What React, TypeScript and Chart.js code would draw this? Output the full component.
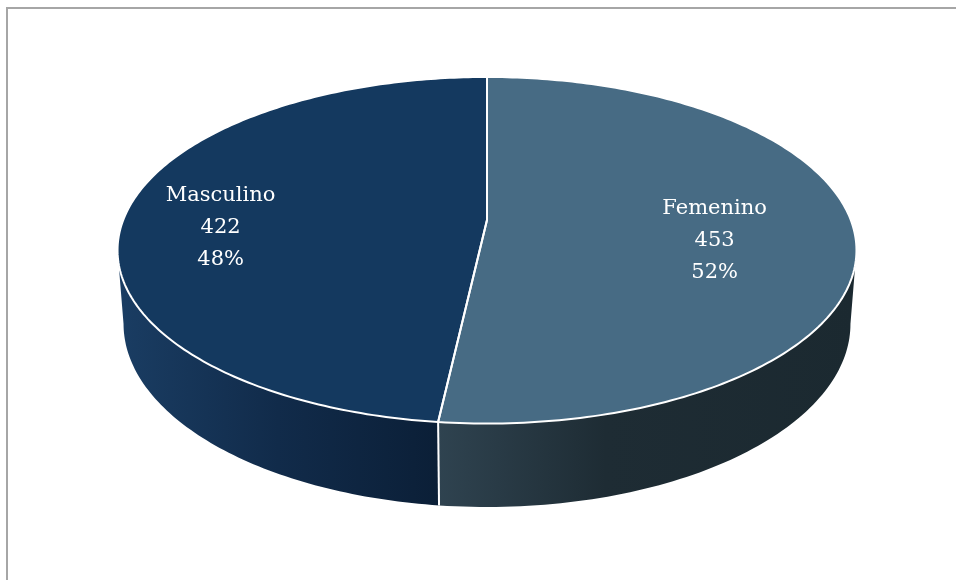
import React, { useEffect, useRef } from 'react';
import { Chart, registerables } from 'chart.js';

Chart.register(...registerables);

// ---- data ----
const categories: string[] = ['Femenino', 'Masculino'];
const values: number[] = [453, 422];

// ---- styles ----
const topColors: string[] = ['#476b84', '#14395f'];
const sideStops: [number, string][][] = [
  [[0, '#2f4350'], [0.4, '#1e2c34'], [1, '#1b2930']],
  [[0, '#1a3d63'], [0.5, '#112b4a'], [1, '#0b1f37']],
];

// 3D projection parameters (relative to the pie radius computed by Chart.js)
const PERSP = 0.1746;
const DEPTH_PERSP = 0.016;
const KX = 1.6536;
const KY = 0.7636;
const KH = 0.334;
const LABEL_R = 0.68;
const LABEL_DX = -21;
const LABEL_DY = 14;
const LINE_H = 32;
const FONT = '21px "DejaVu Serif", "Liberation Serif", serif';

const pie3d = {
  id: 'pie3d',
  beforeDatasetsDraw(chart: any) {
    const ctx: CanvasRenderingContext2D = chart.ctx;
    const meta = chart.getDatasetMeta(0);
    const arcs: any[] = meta.data;
    if (!arcs.length) return false;
    const cx = arcs[0].x;
    const cy = arcs[0].y;
    const R = arcs[0].outerRadius;
    const proj = (a: number, z: number, r = 1): [number, number] => {
      const u = r * Math.cos(a);
      const v = r * Math.sin(a);
      const w = 1 - PERSP * v + DEPTH_PERSP * z;
      return [cx + (KX * R * u) / w, cy + (KY * R * v + KH * R * z) / w];
    };
    const extreme = (z: number) => Math.asin(PERSP / (1 + DEPTH_PERSP * z));
    const topLo = extreme(0);
    const topHi = Math.PI - topLo;
    const botLo = extreme(1);
    const botHi = Math.PI - botLo;

    ctx.save();
    // ---- sides ----
    arcs.forEach((el: any, i: number) => {
      const s = el.startAngle;
      const e = el.endAngle;
      const ts = Math.max(s, topLo);
      const te = Math.min(e, topHi);
      if (ts >= te) return;
      const bs = s > topLo ? s : botLo;
      const be = e < topHi ? e : botHi;
      const N = 80;
      ctx.beginPath();
      for (let k = 0; k <= N; k++) {
        const t = ts + ((te - ts) * k) / N;
        const [x, y] = proj(t, 0);
        if (k === 0) ctx.moveTo(x, y);
        else ctx.lineTo(x, y);
      }
      for (let k = N; k >= 0; k--) {
        const t = bs + ((be - bs) * k) / N;
        const [x, y] = proj(t, 1);
        ctx.lineTo(x, y);
      }
      ctx.closePath();
      const leftX = Math.min(proj(te, 0)[0], proj(be, 1)[0]);
      const rightX = Math.max(proj(ts, 0)[0], proj(bs, 1)[0]);
      const g = ctx.createLinearGradient(leftX, 0, rightX, 0);
      sideStops[i % sideStops.length].forEach(([o, c]) => g.addColorStop(o, c));
      ctx.fillStyle = g;
      ctx.fill();
    });
    // side divider lines
    arcs.forEach((el: any) => {
      const b = el.startAngle;
      [b, b + Math.PI * 2].forEach((bb) => {
        if (bb > topLo && bb < topHi) {
          const [x0, y0] = proj(bb, 0);
          const [x1, y1] = proj(bb, 1);
          ctx.beginPath();
          ctx.moveTo(x0, y0);
          ctx.lineTo(x1, y1);
          ctx.strokeStyle = '#ffffff';
          ctx.lineWidth = 2;
          ctx.stroke();
        }
      });
    });
    // ---- top faces ----
    arcs.forEach((el: any, i: number) => {
      const s = el.startAngle;
      const e = el.endAngle;
      const N = 200;
      ctx.beginPath();
      ctx.moveTo(cx, cy);
      for (let k = 0; k <= N; k++) {
        const t = s + ((e - s) * k) / N;
        const [x, y] = proj(t, 0);
        ctx.lineTo(x, y);
      }
      ctx.closePath();
      ctx.fillStyle = el.options.backgroundColor || topColors[i];
      ctx.fill();
    });
    arcs.forEach((el: any) => {
      const s = el.startAngle;
      const e = el.endAngle;
      const N = 200;
      ctx.beginPath();
      ctx.moveTo(cx, cy);
      for (let k = 0; k <= N; k++) {
        const t = s + ((e - s) * k) / N;
        const [x, y] = proj(t, 0);
        ctx.lineTo(x, y);
      }
      ctx.closePath();
      ctx.strokeStyle = '#ffffff';
      ctx.lineWidth = 2;
      ctx.lineJoin = 'round';
      ctx.stroke();
    });
    // ---- labels ----
    const total = values.reduce((a, b) => a + b, 0);
    ctx.fillStyle = '#ffffff';
    ctx.font = FONT;
    ctx.textAlign = 'center';
    ctx.textBaseline = 'middle';
    arcs.forEach((el: any, i: number) => {
      const mid = (el.startAngle + el.endAngle) / 2;
      const [px, py] = proj(mid, 0, LABEL_R);
      const lx = px + LABEL_DX;
      const ly = py + LABEL_DY;
      const lines = [
        String(chart.data.labels[i]),
        String(values[i]),
        Math.round((values[i] / total) * 100) + '%',
      ];
      lines.forEach((txt, j) => {
        ctx.fillText(txt, lx, ly + (j - 1) * LINE_H);
      });
    });
    ctx.restore();
    return false;
  },
};

export default function App() {
  const ref = useRef<HTMLCanvasElement | null>(null);
  useEffect(() => {
    if (!ref.current) return;
    const chart = new Chart(ref.current, {
      type: 'pie',
      data: {
        labels: categories,
        datasets: [
          {
            data: values,
            backgroundColor: topColors,
            borderWidth: 0,
            hoverOffset: 0,
          },
        ],
      },
      options: {
        responsive: false,
        animation: false,
        events: [],
        layout: { padding: { left: 18, top: 0, right: 0, bottom: 140 } },
        plugins: {
          legend: { display: false },
          tooltip: { enabled: false },
        },
      },
      plugins: [pie3d as any],
    });
    return () => chart.destroy();
  }, []);
  return (
    <div style={{ position: 'absolute', left: 0, top: 0, width: 956, height: 580, background: '#ffffff', overflow: 'hidden' }}>
      <canvas ref={ref} width={956} height={580} style={{ display: 'block', position: 'absolute', left: 0, top: 0 }} />
      <div
        style={{
          position: 'absolute',
          left: 6,
          top: 7,
          width: 950,
          height: 580,
          borderTop: '2px solid #a6a6a6',
          borderLeft: '2px solid #a6a6a6',
          boxSizing: 'border-box',
        }}
      />
    </div>
  );
}
